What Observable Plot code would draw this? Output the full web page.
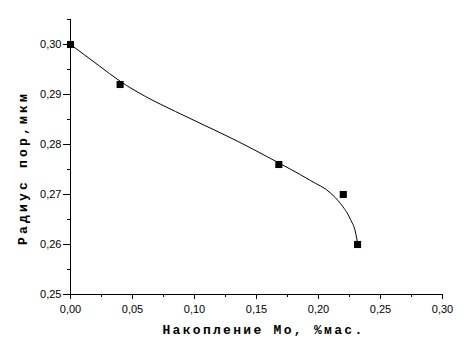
<!DOCTYPE html>
<html>
<head>
<meta charset="utf-8">
<script src="https://cdn.jsdelivr.net/npm/d3@7"></script>
<script src="https://cdn.jsdelivr.net/npm/@observablehq/plot@0.6"></script>
<style>
  html, body { margin: 0; padding: 0; background: #fff; }
  #chart svg { display: block; background: #fff; }
</style>
</head>
<body>
<div id="chart"></div>
<script>
// Measured points
const pointX = [0.000, 0.040, 0.168, 0.220, 0.2315];
const pointY = [0.300, 0.292, 0.276, 0.270, 0.260];

// Fitted curve
const curveX = [0.000, 0.0228, 0.0403, 0.0605, 0.0847, 0.1075, 0.1344, 0.1613, 0.1935, 0.2097, 0.2177, 0.2258, 0.2298, 0.2317];
const curveY = [0.300, 0.2958, 0.2926, 0.2896, 0.2866, 0.2839, 0.2807, 0.2772, 0.2728, 0.2703, 0.2682, 0.2650, 0.2625, 0.2600];

// Ticks
const xMajor = [0, 0.05, 0.10, 0.15, 0.20, 0.25, 0.30];
const xMinor = [0.025, 0.075, 0.125, 0.175, 0.225, 0.275];
const yMajor = [0.25, 0.26, 0.27, 0.28, 0.29, 0.30];
const yMinor = [0.255, 0.265, 0.275, 0.285, 0.295, 0.305];

const xTitle = "Накопление Мо, %мас.";
const yTitle = "Радиус пор,мкм";

const points = pointX.map((x, i) => ({x, y: pointY[i]}));
const curve = curveX.map((x, i) => ({x, y: curveY[i]}));
const fmt = d => d3.format(".2f")(d).replace(".", ",");
const titleFont = "'Liberation Mono', 'Courier New', monospace";

const chart = Plot.plot({
  width: 474,
  height: 361,
  marginLeft: 70,
  marginRight: 32,
  marginTop: 19,
  marginBottom: 67,
  style: {fontFamily: "Arial, 'Liberation Sans', sans-serif", fontSize: "11px", color: "#000", background: "#fff"},
  x: {domain: [0, 0.30]},
  y: {domain: [0.25, 0.305]},
  marks: [
    Plot.axisX({ticks: xMajor, tickFormat: fmt, tickSize: 5, tickPadding: 6, label: null, stroke: "#000", fill: "#000"}),
    Plot.axisX({ticks: xMinor, tickFormat: () => "", tickSize: 3, label: null, stroke: "#000"}),
    Plot.axisY({ticks: yMajor, tickFormat: fmt, tickSize: 7, tickPadding: 2, label: null, stroke: "#000", fill: "#000"}),
    Plot.axisY({ticks: yMinor, tickFormat: () => "", tickSize: 3, label: null, stroke: "#000"}),
    Plot.ruleX([0], {stroke: "#000", strokeWidth: 1}),
    Plot.ruleY([0.25], {stroke: "#000", strokeWidth: 1}),
    Plot.line(curve, {x: "x", y: "y", curve: "monotone-x", stroke: "#000", strokeWidth: 1}),
    Plot.dot(points, {x: "x", y: "y", symbol: "square", r: 4, fill: "#000", stroke: "none"}),
    Plot.text([xTitle], {frameAnchor: "bottom", text: d => d, dx: 7, dy: 39, fontFamily: titleFont, fontWeight: "bold", fontSize: 13, fill: "#000", textAnchor: "middle"}),
    Plot.text([yTitle], {frameAnchor: "left", text: d => d, dx: -48, dy: 11, rotate: -90, fontFamily: titleFont, fontWeight: "bold", fontSize: 13, fill: "#000", textAnchor: "middle"})
  ]
});
chart.querySelectorAll("text").forEach(t => {
  if (t.textContent === xTitle) t.style.letterSpacing = "2.3px";
  if (t.textContent === yTitle) t.style.letterSpacing = "3.2px";
});
document.getElementById("chart").appendChild(chart);
</script>
</body>
</html>
